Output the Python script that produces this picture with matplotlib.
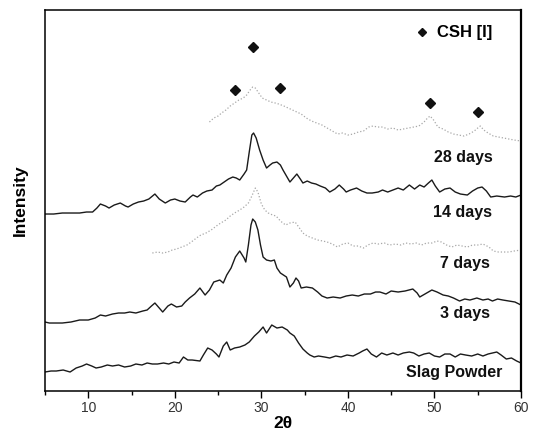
import numpy as np
import matplotlib
matplotlib.use("Agg")
import matplotlib.pyplot as plt
from matplotlib.ticker import MultipleLocator

# XRD patterns (2-theta in degrees, intensity in a.u., curves already offset)
x_slag = [5.0, 5.7, 6.3, 7.1, 7.9, 8.6, 9.3, 9.8, 10.4, 10.9,
          11.5, 12.2, 12.8, 13.5, 14.2, 14.9, 15.5, 16.2, 16.8, 17.4,
          18.0, 18.7, 19.3, 19.9, 20.5, 21.0, 21.5, 22.0, 22.9, 23.3,
          23.8, 24.3, 24.8, 25.1, 25.6, 26.0, 26.4, 26.9, 27.5, 28.1,
          28.6, 29.2, 29.7, 30.2, 30.6, 31.2, 31.8, 32.4, 33.0, 33.3,
          33.8, 34.3, 34.8, 35.3, 35.6, 36.1, 36.6, 37.3, 37.9, 38.6,
          39.2, 39.9, 40.6, 41.3, 41.7, 42.2, 42.7, 43.3, 43.9, 44.5,
          45.2, 45.8, 46.4, 47.1, 47.6, 48.2, 48.8, 49.4, 50.0, 50.6,
          51.2, 51.8, 52.4, 53.0, 53.6, 54.3, 55.0, 55.6, 56.2, 56.7,
          57.2, 57.7, 58.3, 58.9, 59.5, 60.0]
y_slag = [19, 20, 20, 21, 19, 23, 25, 27, 25, 23,
          24, 26, 25, 26, 24, 25, 27, 26, 28, 27,
          27, 28, 27, 29, 28, 34, 31, 31, 30, 36,
          43, 41, 37, 34, 45, 49, 41, 43, 44, 46,
          49, 55, 59, 64, 58, 66, 63, 64, 61, 58,
          55, 48, 42, 38, 36, 34, 35, 34, 33, 35,
          34, 36, 35, 38, 40, 42, 37, 34, 38, 36,
          38, 36, 38, 39, 38, 35, 37, 38, 35, 34,
          37, 37, 34, 37, 36, 35, 37, 35, 37, 38,
          39, 36, 32, 33, 30, 28]

x_3d = [5.0, 5.5, 6.2, 7.0, 8.0, 9.0, 10.0, 10.8, 11.4, 12.0,
        12.8, 13.5, 14.2, 14.8, 15.5, 16.3, 16.8, 17.3, 17.7, 18.2,
        18.6, 19.2, 19.6, 20.2, 20.8, 21.2, 21.7, 22.3, 22.9, 23.5,
        24.0, 24.5, 25.2, 25.6, 26.0, 26.5, 27.0, 27.5, 28.0, 28.2,
        28.5, 28.8, 29.0, 29.3, 29.6, 29.9, 30.2, 30.6, 31.1, 31.5,
        31.8, 32.2, 32.9, 33.3, 33.7, 34.0, 34.3, 34.6, 35.2, 35.9,
        36.5, 37.0, 37.6, 38.3, 39.1, 39.8, 40.5, 41.2, 41.9, 42.6,
        43.2, 43.7, 44.4, 45.0, 45.8, 46.6, 47.5, 48.0, 48.3, 48.9,
        49.3, 49.7, 50.3, 51.0, 51.6, 52.2, 52.9, 53.5, 54.1, 54.9,
        55.6, 56.2, 56.7, 57.3, 57.9, 58.6, 59.3, 60.0]
y_3d = [69, 68, 68, 68, 69, 71, 71, 73, 76, 75,
        77, 78, 78, 79, 78, 80, 81, 85, 88, 83,
        79, 85, 87, 84, 85, 89, 93, 97, 103, 96,
        101, 109, 111, 108, 116, 123, 134, 140, 133, 129,
        146, 166, 172, 169, 161, 146, 134, 131, 130, 131,
        123, 118, 114, 104, 108, 113, 110, 103, 104, 103,
        99, 95, 93, 94, 93, 95, 96, 95, 97, 97,
        99, 99, 97, 100, 99, 100, 102, 98, 94, 97,
        99, 101, 99, 96, 95, 93, 90, 92, 91, 93,
        91, 92, 90, 92, 91, 90, 89, 86]

x_7d = [17.4, 18.0, 18.6, 19.2, 19.7, 20.2, 20.8, 21.4, 21.9, 22.5,
        23.0, 23.6, 24.2, 24.8, 25.3, 25.9, 26.4, 26.9, 27.5, 28.0,
        28.5, 28.9, 29.3, 29.6, 30.0, 30.4, 30.8, 31.3, 31.7, 32.2,
        32.8, 33.3, 33.9, 34.4, 34.8, 35.3, 35.9, 36.5, 37.1, 37.6,
        38.2, 38.8, 39.4, 40.0, 40.6, 41.2, 41.8, 42.3, 42.9, 43.5,
        44.2, 44.8, 45.5, 46.1, 46.7, 47.3, 47.9, 48.5, 49.1, 49.7,
        50.3, 50.8, 51.4, 52.0, 52.6, 53.2, 53.8, 54.4, 55.0, 55.6,
        56.3, 56.8, 57.4, 58.0, 58.6, 59.2, 60.0]
y_7d = [138, 139, 138, 139, 141, 142, 144, 146, 149, 153,
        156, 158, 161, 165, 168, 171, 175, 178, 181, 184,
        188, 195, 203, 199, 187, 181, 178, 176, 175, 170,
        166, 168, 169, 163, 158, 155, 153, 151, 150, 149,
        147, 144, 147, 148, 145, 145, 143, 146, 148, 147,
        148, 146, 147, 146, 148, 147, 148, 146, 148, 148,
        150, 149, 146, 144, 146, 145, 144, 146, 146, 147,
        144, 140, 139, 139, 139, 140, 141]

x_14d = [5.0, 6.0, 7.0, 8.0, 9.0, 9.8, 10.5, 11.0, 11.4, 12.0,
         12.4, 13.0, 13.7, 14.3, 14.6, 15.2, 15.8, 16.4, 17.0, 17.7,
         18.2, 18.9, 19.5, 20.0, 20.6, 21.2, 21.8, 22.1, 22.6, 23.2,
         23.7, 24.3, 24.8, 25.2, 25.7, 26.2, 26.7, 27.1, 27.5, 28.0,
         28.3, 28.6, 28.9, 29.1, 29.4, 29.8, 30.2, 30.6, 31.0, 31.3,
         31.8, 32.2, 32.5, 32.9, 33.3, 33.7, 34.1, 34.5, 34.8, 35.3,
         35.8, 36.3, 36.8, 37.4, 37.9, 38.5, 39.0, 39.5, 39.8, 40.3,
         41.0, 41.6, 42.2, 42.8, 43.5, 44.0, 44.6, 45.2, 45.8, 46.4,
         47.1, 47.7, 48.3, 48.8, 49.3, 49.7, 50.1, 50.6, 51.2, 51.8,
         52.4, 53.0, 53.8, 54.4, 55.0, 55.5, 56.0, 56.5, 57.2, 58.1,
         58.8, 59.4, 60.0]
y_14d = [177, 177, 178, 178, 178, 179, 179, 183, 187, 185,
         183, 186, 188, 185, 184, 187, 189, 190, 192, 197,
         192, 188, 191, 192, 190, 189, 194, 196, 194, 198,
         200, 201, 205, 206, 209, 212, 214, 213, 211, 217,
         221, 239, 256, 258, 253, 241, 231, 223, 226, 228,
         229, 226, 221, 215, 209, 213, 217, 212, 208, 210,
         208, 207, 205, 203, 199, 202, 206, 202, 199, 201,
         203, 200, 198, 198, 199, 201, 199, 201, 203, 201,
         206, 202, 206, 204, 208, 211, 205, 199, 202, 203,
         199, 197, 196, 200, 203, 204, 200, 194, 195, 194,
         195, 194, 196]

x_28d = [24.0, 24.5, 25.0, 25.4, 25.9, 26.4, 26.9, 27.4, 27.9, 28.3,
         28.7, 29.0, 29.3, 29.7, 30.1, 30.6, 31.1, 31.6, 32.0, 32.6,
         33.1, 33.6, 34.1, 34.6, 35.2, 35.8, 36.4, 37.0, 37.6, 38.2,
         38.8, 39.4, 40.0, 40.6, 41.2, 41.8, 42.4, 42.9, 43.4, 44.0,
         44.6, 45.2, 45.8, 46.4, 47.0, 47.6, 48.2, 48.8, 49.2, 49.5,
         49.9, 50.4, 51.0, 51.6, 52.2, 52.8, 53.4, 54.0, 54.6, 55.0,
         55.3, 55.7, 56.2, 56.8, 57.4, 58.0, 58.6, 59.2, 60.0]
y_28d = [269, 273, 275, 278, 281, 285, 288, 291, 293, 296,
         301, 304, 303, 298, 293, 291, 289, 288, 287, 285,
         283, 281, 279, 277, 273, 270, 268, 266, 263, 260,
         257, 258, 256, 257, 259, 260, 264, 265, 264, 264,
         262, 263, 261, 262, 263, 264, 265, 269, 273, 275,
         271, 264, 262, 259, 257, 256, 255, 257, 260, 263,
         265, 261, 258, 255, 254, 253, 252, 251, 250]

# CSH (I) peak markers
csh_x = [27.0, 29.0, 32.1, 49.5, 55.0]
csh_y = [301, 344, 303, 288, 279]

labels = ["28 days", "14 days", "7 days", "3 days", "Slag Powder"]
label_x = [56.7, 56.7, 56.4, 56.4, 57.9]
label_y = [234, 179, 128, 78, 19]

fig = plt.figure(figsize=(5.37, 4.36), dpi=100)
ax = fig.add_axes([0.0838, 0.1032, 0.8864, 0.8738])

solid = dict(color="#1a1a1a", lw=1.0)
faint = dict(color="#a8a8a8", lw=0.9, ls=(0, (1, 1.6)))
ax.plot(x_slag, y_slag, **solid)
ax.plot(x_3d, y_3d, **solid)
ax.plot(x_7d, y_7d, **faint)
ax.plot(x_14d, y_14d, **solid)
ax.plot(x_28d, y_28d, **faint)
ax.plot(csh_x, csh_y, ls="none", marker="D", ms=5, color="#111", label="CSH [I]")

lab_font = ["Liberation Sans", "DejaVu Sans"]
for t, lx, ly in zip(labels, label_x, label_y):
    ax.text(lx, ly, t, ha="right", va="center", fontsize=11.5,
            fontweight="bold", family=lab_font, color="#111")

leg = ax.legend(loc="center left", bbox_to_anchor=(0.77, 0.94), frameon=False,
                handlelength=0.5, handletextpad=0.6, borderaxespad=0, markerscale=0.8,
                prop={"family": lab_font, "weight": "bold", "size": 12})

ax.set_xlim(5, 60)
ax.set_ylim(0, 381)
ax.xaxis.set_major_locator(MultipleLocator(10))
ax.xaxis.set_minor_locator(MultipleLocator(5))
ax.tick_params(axis="x", which="major", direction="out", length=5, width=1,
               labelsize=10, labelcolor="#333", pad=2)
ax.tick_params(axis="x", which="minor", direction="out", length=3, width=1)
ax.set_yticks([])
for side in ["left", "bottom", "top"]:
    ax.spines[side].set_linewidth(1.1)
ax.spines["right"].set_linewidth(1.6)
for lab in ax.get_xticklabels():
    lab.set_family(["Liberation Sans", "DejaVu Sans"])

ax.set_xlabel("2θ", fontsize=12.5, fontweight="bold", family=["Liberation Sans", "DejaVu Sans"], labelpad=1)
ax.set_ylabel("Intensity", fontsize=12.5, fontweight="bold", family=["Liberation Sans", "DejaVu Sans"], labelpad=12)

fig.savefig("out.png", dpi=100)
